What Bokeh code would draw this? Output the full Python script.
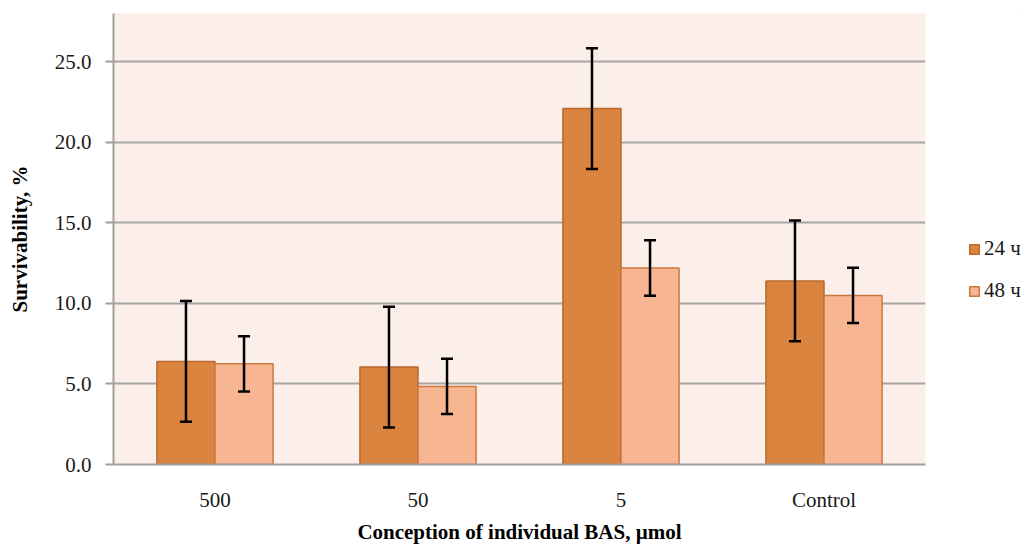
from bokeh.plotting import figure
from bokeh.layouts import row
from bokeh.models import ColumnDataSource, FactorRange, Whisker, TeeHead, Legend, LegendItem, Range1d, FixedTicker, CustomJSTickFormatter
from bokeh.transform import dodge
from bokeh.embed import file_html
from bokeh.resources import INLINE

categories = ["500", "50", "5", "Control"]
series_names = ["24 ч", "48 ч"]
values_24 = [6.4, 6.05, 22.1, 11.4]
errors_24 = [3.75, 3.75, 3.75, 3.75]
values_48 = [6.25, 4.85, 12.2, 10.5]
errors_48 = [1.72, 1.72, 1.72, 1.72]
y_ticks = [0, 5, 10, 15, 20, 25]

C24, L24 = "#DB843F", "#B8692E"
C48, L48 = "#F8B592", "#C8793F"

src = ColumnDataSource(dict(
    cat=categories,
    v24=values_24, lo24=[v - e for v, e in zip(values_24, errors_24)], hi24=[v + e for v, e in zip(values_24, errors_24)],
    v48=values_48, lo48=[v - e for v, e in zip(values_48, errors_48)], hi48=[v + e for v, e in zip(values_48, errors_48)],
))

FONT = "Liberation Serif"
FS = "21px"

p = figure(width=935, height=546, x_range=FactorRange(factors=categories, range_padding=0),
           y_range=Range1d(0, 28), output_backend="svg", toolbar_location=None,
           min_border_left=113, min_border_right=10, min_border_top=13, min_border_bottom=80)
p.background_fill_color = "#FCEEE9"
p.border_fill_color = "white"
p.outline_line_color = None

w = 0.286
r24 = p.vbar(x=dodge("cat", -0.143, range=p.x_range), top="v24", width=w, source=src,
             fill_color=C24, line_color=L24, line_width=1.5)
r48 = p.vbar(x=dodge("cat", 0.143, range=p.x_range), top="v48", width=w, source=src,
             fill_color=C48, line_color=L48, line_width=1.5)

for off, lo, hi in [(-0.143, "lo24", "hi24"), (0.143, "lo48", "hi48")]:
    wk = Whisker(base=dodge("cat", off, range=p.x_range), lower=lo, upper=hi, source=src,
                 line_color="black", line_width=2.5, level="overlay",
                 upper_head=TeeHead(size=12, line_width=2.5, line_color="black"),
                 lower_head=TeeHead(size=12, line_width=2.5, line_color="black"))
    p.add_layout(wk)

p.yaxis.ticker = FixedTicker(ticks=y_ticks)
p.yaxis.formatter = CustomJSTickFormatter(code="return tick.toFixed(1);")
p.ygrid.ticker = FixedTicker(ticks=y_ticks)
p.ygrid.grid_line_color = "#A6A6A6"
p.ygrid.grid_line_width = 2
p.xgrid.grid_line_color = None

for ax in (p.xaxis, p.yaxis):
    ax.axis_line_color = "#A0A0A0"
    ax.axis_line_width = 2
    ax.major_label_text_font = FONT
    ax.major_label_text_font_size = FS
    ax.major_label_text_color = "#1a1a1a"
    ax.axis_label_text_font = FONT
    ax.axis_label_text_font_size = FS
    ax.axis_label_text_font_style = "bold"
    ax.axis_label_text_color = "black"
    ax.minor_tick_line_color = None

p.yaxis.major_tick_line_color = "#A0A0A0"
p.yaxis.major_tick_line_width = 2
p.yaxis.major_tick_out = 8
p.yaxis.major_tick_in = 0
p.yaxis.major_label_standoff = 14
p.yaxis.axis_label = "Survivability, %"
p.yaxis.axis_label_standoff = 20

p.xaxis.major_tick_line_color = None
p.xaxis.major_label_standoff = 17
p.xaxis.axis_label = "Conception of individual BAS, µmol"
p.xaxis.axis_label_standoff = 5

# legend panel
pl = figure(width=87, height=546, x_range=Range1d(0, 1), y_range=Range1d(0, 1),
            output_backend="svg", toolbar_location=None,
            min_border_left=0, min_border_right=0, min_border_top=0, min_border_bottom=0)
pl.axis.visible = False
pl.grid.visible = False
pl.outline_line_color = None
pl.background_fill_color = "white"
pl.border_fill_color = "white"
g24 = pl.vbar(x=[5], top=[5], bottom=[4], width=0.1, fill_color=C24, line_color=L24, line_width=1.5)
g48 = pl.vbar(x=[5], top=[5], bottom=[4], width=0.1, fill_color=C48, line_color=L48, line_width=1.5)

legend = Legend(items=[LegendItem(label=series_names[0], renderers=[g24]),
                       LegendItem(label=series_names[1], renderers=[g48])],
                location=(33, 161), orientation="vertical",
                label_text_font=FONT, label_text_font_size=FS, label_text_color="#1a1a1a",
                glyph_width=12, glyph_height=12, spacing=17, padding=0, margin=0,
                label_standoff=4, border_line_color=None, background_fill_alpha=0)
pl.add_layout(legend)

layout = row(p, pl)
open("out.html", "w").write(file_html(layout, INLINE))
